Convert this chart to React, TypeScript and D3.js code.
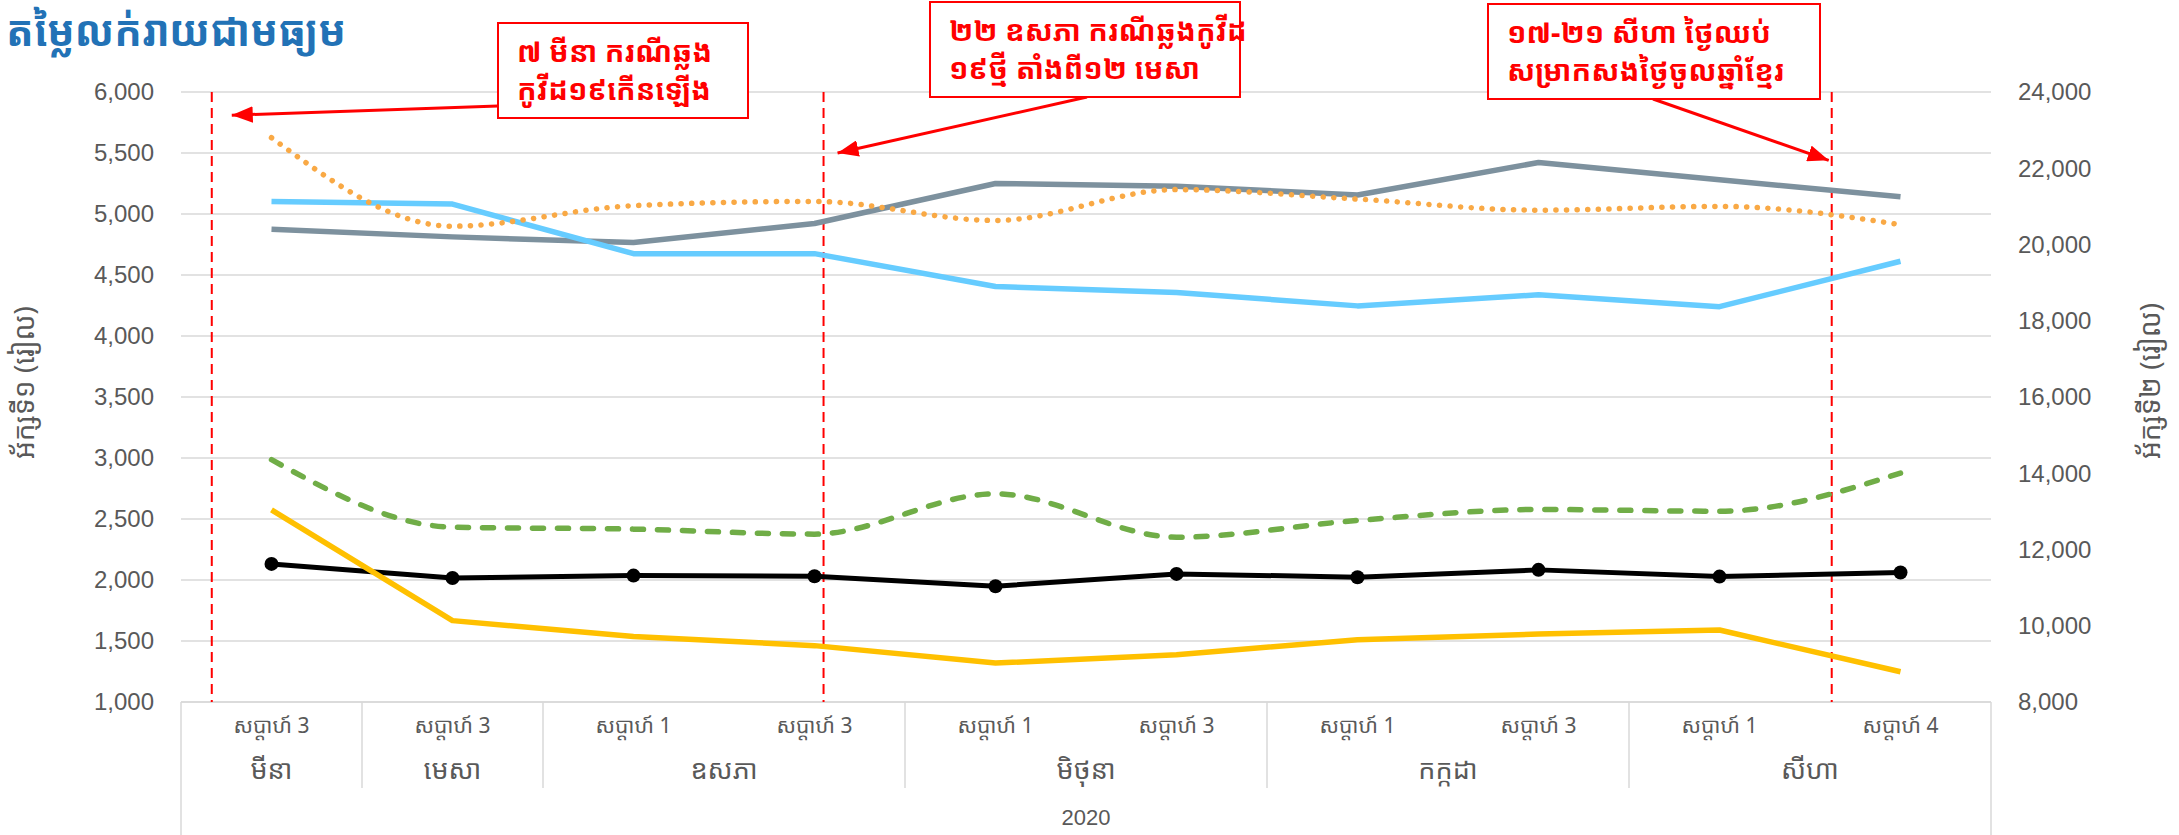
import React from "react";
import * as d3 from "d3";

const width = 2179;
const height = 835;
const margin = { top: 92, right: 188, bottom: 133, left: 181 };
const khmerFont = "'Khmer OS', 'Khmer OS System', 'Noto Sans Khmer', 'Noto Sans', Roboto, sans-serif";
const numFont = "'Liberation Sans', Arial, sans-serif";

const title = "តម្លៃលក់រាយជាមធ្យម";
const leftTitle = "អ័ក្សទី១ (រៀល)";
const rightTitle = "អ័ក្សទី២ (រៀល)";

// category axis: week / month / year
const weeks = ["សប្តាហ៍ 3", "សប្តាហ៍ 3", "សប្តាហ៍ 1", "សប្តាហ៍ 3", "សប្តាហ៍ 1", "សប្តាហ៍ 3", "សប្តាហ៍ 1", "សប្តាហ៍ 3", "សប្តាហ៍ 1", "សប្តាហ៍ 4"];
const months = ["មីនា", "មេសា", "ឧសភា", "មិថុនា", "កក្កដា", "សីហា"];
const monthSpans = [1, 1, 2, 2, 2, 2];
const year = "2020";

const leftTicks = [1000, 1500, 2000, 2500, 3000, 3500, 4000, 4500, 5000, 5500, 6000];
const rightTicks = [8000, 10000, 12000, 14000, 16000, 18000, 20000, 22000, 24000];

// series on the secondary (right) axis
const graySeries = [20400, 20200, 20050, 20550, 21600, 21530, 21300, 22150, 21700, 21250];
const blueSeries = [21130, 21060, 19760, 19760, 18900, 18740, 18390, 18680, 18370, 19560];
const orangeSeries = [22800, 20480, 21020, 21130, 20630, 21440, 21190, 20900, 21000, 20520];
// series on the primary (left) axis
const greenSeries = [2986, 2433, 2417, 2376, 2707, 2351, 2488, 2578, 2564, 2876];
const blackSeries = [2132, 2017, 2036, 2031, 1949, 2050, 2023, 2083, 2028, 2061];
const yellowSeries = [2575, 1667, 1536, 1462, 1319, 1388, 1511, 1557, 1590, 1248];

// events: position on the category axis (index units), arrow tip value (left axis)
const eventPos = [-0.33, 3.05, 8.62];
const eventTipValue = [5810, 5500, 5440];
const eventTipShift = [20, 14, -3];
const eventText = [
  ["៧ មីនា ករណីឆ្លង", "កូវីដ១៩កើនឡើង"],
  ["២២ ឧសភា ករណីឆ្លងកូវីដ", "១៩ថ្មី តាំងពី១២ មេសា"],
  ["១៧-២១ សីហា ថ្ងៃឈប់", "សម្រាកសងថ្ងៃចូលឆ្នាំខ្មែរ"],
];
// annotation boxes [x, y, w, h] and arrow tail
const boxes = [
  [498, 23, 250, 95],
  [930, 2, 310, 95],
  [1488, 4, 332, 95],
];
const arrowTails = [
  [498, 106],
  [1087, 97],
  [1653, 99],
];

const x = d3.scaleLinear().domain([-0.5, 9.5]).range([margin.left, width - margin.right]);
const yL = d3.scaleLinear().domain([1000, 6000]).range([height - margin.bottom, margin.top]);
const yR = d3.scaleLinear().domain([8000, 24000]).range([height - margin.bottom, margin.top]);

const straight = (scale: any) =>
  d3.line<number>().x((_, i) => x(i)).y((d) => scale(d));
const smooth = (scale: any) =>
  d3.line<number>().x((_, i) => x(i)).y((d) => scale(d)).curve(d3.curveMonotoneX);

export default function App() {
  const bottom = height - margin.bottom;
  const left = margin.left;
  const right = width - margin.right;

  const monthStarts: number[] = [];
  monthSpans.reduce((acc, s) => {
    monthStarts.push(acc);
    return acc + s;
  }, 0);

  return (
    <div style={{ position: "absolute", left: 0, top: 0 }}>
      <svg width={width} height={height} style={{ display: "block", background: "#fff" }}>
        <defs>
          <marker id="arr" viewBox="0 0 14 11" refX="14" refY="5.5" markerWidth="7" markerHeight="5.5" orient="auto" markerUnits="strokeWidth">
            <path d="M0,0 L14,5.5 L0,11 z" fill="#FF0000" />
          </marker>
        </defs>

        {/* title */}
        <text x={6} y={46} fontFamily={khmerFont} fontSize={43} fontWeight={700} fill="#2272B6" textLength={340} lengthAdjust="spacingAndGlyphs">
          {title}
        </text>

        {/* gridlines */}
        {leftTicks.map((t) => (
          <line key={t} x1={left} x2={right} y1={yL(t)} y2={yL(t)} stroke="#D9D9D9" strokeWidth={1.5} />
        ))}

        {/* left axis labels */}
        {leftTicks.map((t) => (
          <text key={t} x={154} y={yL(t)} dy="0.35em" textAnchor="end" fontFamily={numFont} fontSize={24} fill="#595959">
            {d3.format(",")(t)}
          </text>
        ))}
        {/* right axis labels */}
        {rightTicks.map((t) => (
          <text key={t} x={2018} y={yR(t)} dy="0.35em" textAnchor="start" fontFamily={numFont} fontSize={24} fill="#595959">
            {d3.format(",")(t)}
          </text>
        ))}

        {/* axis titles */}
        <text transform="translate(34,459) rotate(-90)" textAnchor="start" fontFamily={khmerFont} fontSize={28} fill="#595959">
          {leftTitle}
        </text>
        <text transform="translate(2160,459) rotate(-90)" textAnchor="start" fontFamily={khmerFont} fontSize={28} fill="#595959">
          {rightTitle}
        </text>

        {/* multi-level category axis */}
        <line x1={left} x2={right} y1={bottom} y2={bottom} stroke="#D9D9D9" strokeWidth={1.5} />
        <line x1={left} x2={left} y1={bottom} y2={height} stroke="#D9D9D9" strokeWidth={1.5} />
        <line x1={right} x2={right} y1={bottom} y2={height} stroke="#D9D9D9" strokeWidth={1.5} />
        {monthStarts.slice(1).map((s) => (
          <line key={s} x1={x(s - 0.5)} x2={x(s - 0.5)} y1={bottom} y2={bottom + 86} stroke="#D9D9D9" strokeWidth={1.5} />
        ))}
        {weeks.map((w, i) => (
          <text key={i} x={x(i)} y={bottom + 24} dy="0.35em" textAnchor="middle" fontFamily={khmerFont} fontSize={21} fill="#595959">
            {w}
          </text>
        ))}
        {months.map((m, i) => (
          <text key={m} x={x(monthStarts[i] + (monthSpans[i] - 1) / 2)} y={bottom + 68} dy="0.35em" textAnchor="middle" fontFamily={khmerFont} fontSize={27} fill="#595959">
            {m}
          </text>
        ))}
        <text x={(left + right) / 2} y={bottom + 115} dy="0.35em" textAnchor="middle" fontFamily={numFont} fontSize={22} fill="#595959">
          {year}
        </text>

        {/* event lines */}
        {eventPos.map((p, i) => (
          <line key={i} x1={x(p)} x2={x(p)} y1={margin.top} y2={bottom} stroke="#FF0000" strokeWidth={2} strokeDasharray="10 6" />
        ))}

        {/* series */}
        <path d={straight(yR)(graySeries) || ""} fill="none" stroke="#7D919E" strokeWidth={5.5} strokeLinejoin="round" />
        <path d={straight(yR)(blueSeries) || ""} fill="none" stroke="#66CCFF" strokeWidth={5.5} strokeLinejoin="round" />
        <path d={smooth(yR)(orangeSeries) || ""} fill="none" stroke="#F9A945" strokeWidth={5.5} strokeLinecap="round" strokeDasharray="0.1 10.5" />
        <path d={smooth(yL)(greenSeries) || ""} fill="none" stroke="#70AD47" strokeWidth={5.5} strokeLinecap="round" strokeDasharray="11 14" />
        <path d={straight(yL)(blackSeries) || ""} fill="none" stroke="#000000" strokeWidth={5} strokeLinejoin="round" />
        {blackSeries.map((v, i) => (
          <circle key={i} cx={x(i)} cy={yL(v)} r={7} fill="#000000" />
        ))}
        <path d={straight(yL)(yellowSeries) || ""} fill="none" stroke="#FFC000" strokeWidth={5.5} strokeLinejoin="round" />

        {/* annotations */}
        {boxes.map((b, i) => (
          <g key={i}>
            <line
              x1={arrowTails[i][0]}
              y1={arrowTails[i][1]}
              x2={x(eventPos[i]) + eventTipShift[i]}
              y2={yL(eventTipValue[i])}
              stroke="#FF0000"
              strokeWidth={3}
              markerEnd="url(#arr)"
            />
            <rect x={b[0]} y={b[1]} width={b[2]} height={b[3]} fill="#fff" stroke="#FF0000" strokeWidth={2} />
            {eventText[i].map((t, j) => (
              <text key={j} x={b[0] + 19} y={b[1] + 39 + j * 38} fontFamily={khmerFont} fontSize={29} fontWeight={700} fill="#FF0000">
                {t}
              </text>
            ))}
          </g>
        ))}
      </svg>
    </div>
  );
}
